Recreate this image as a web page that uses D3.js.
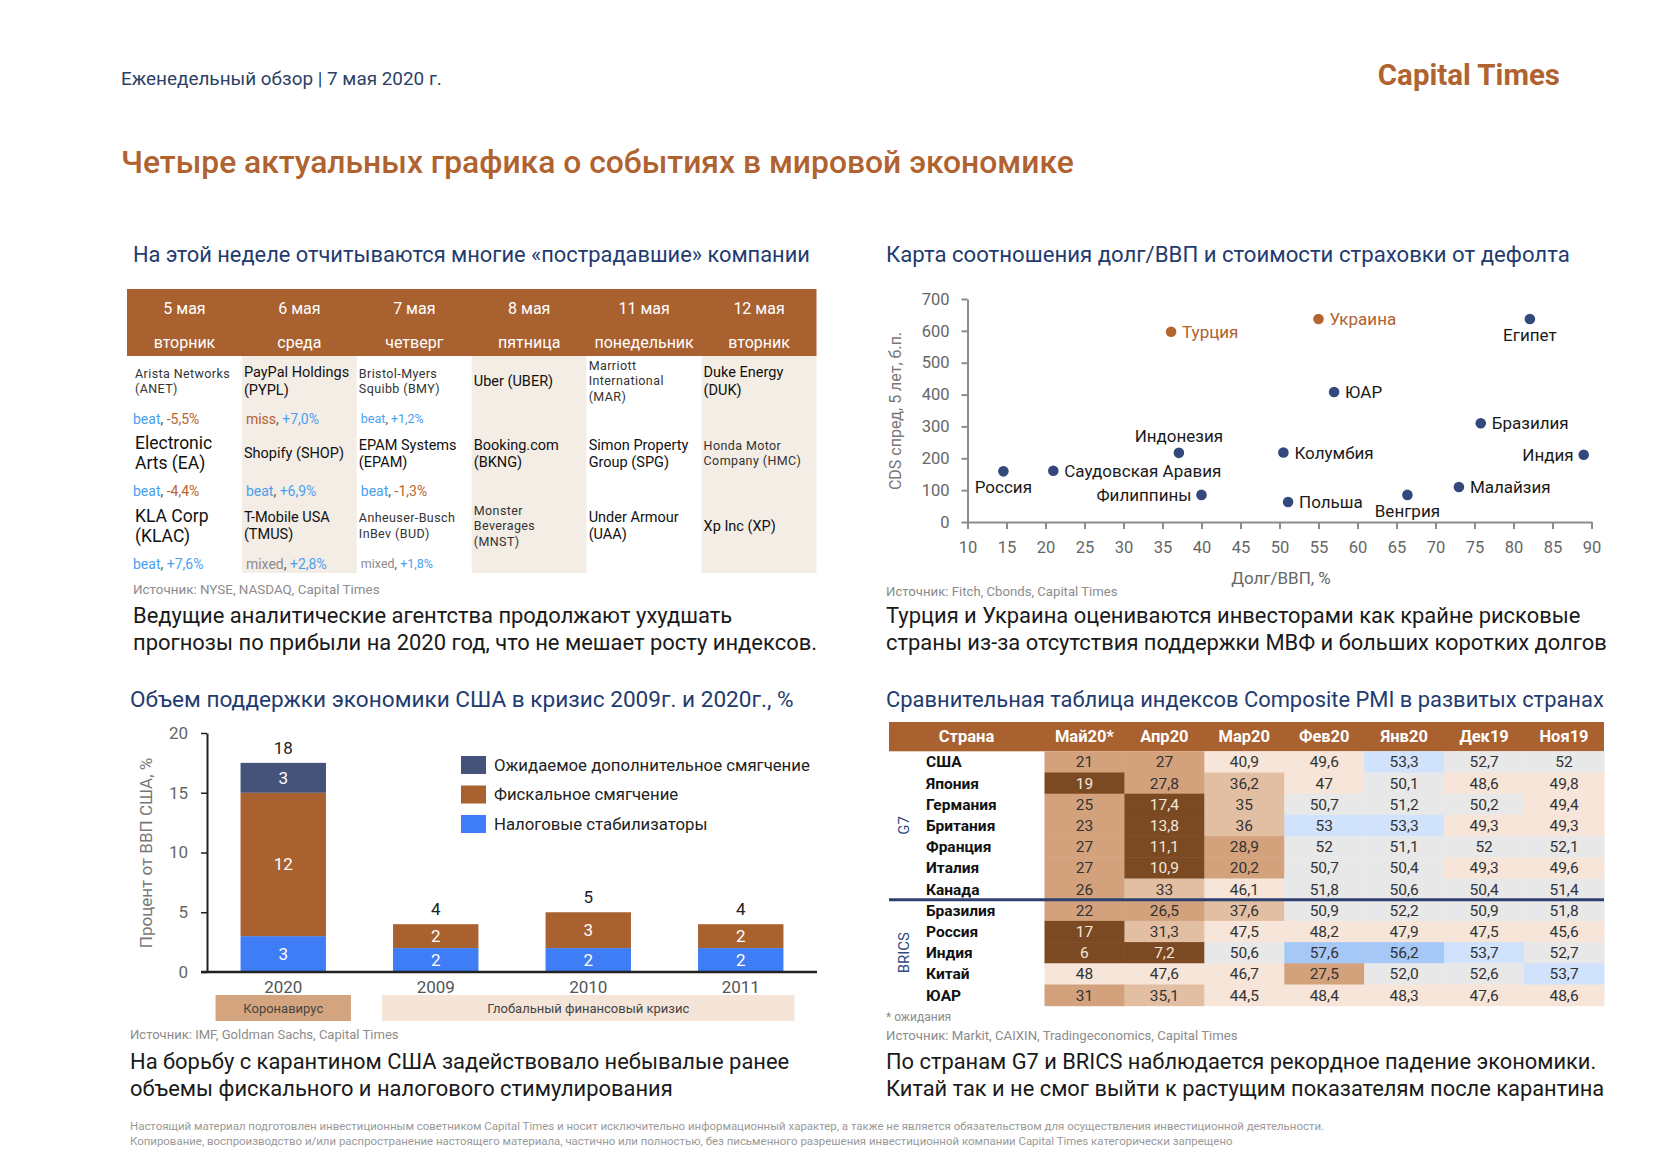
<!DOCTYPE html>
<html>
<head>
<meta charset="utf-8">
<script src="https://cdn.jsdelivr.net/npm/d3@7"></script>
<style>
  body { margin: 0; background: #fff; }
  svg { display: block; }
</style>
</head>
<body>
<script>
// ---- data: events table ----
var eventDays = ["5 мая", "6 мая", "7 мая", "8 мая", "11 мая", "12 мая"];
var eventWeekdays = ["вторник", "среда", "четверг", "пятница", "понедельник", "вторник"];
var eventCompanies = [
    ["Arista Networks\n(ANET)", "Electronic\nArts (EA)", "KLA Corp\n(KLAC)"],
    ["PayPal Holdings\n(PYPL)", "Shopify (SHOP)", "T-Mobile USA\n(TMUS)"],
    ["Bristol-Myers\nSquibb (BMY)", "EPAM Systems\n(EPAM)", "Anheuser-Busch\nInBev (BUD)"],
    ["Uber (UBER)", "Booking.com\n(BKNG)", "Monster\nBeverages\n(MNST)"],
    ["Marriott\nInternational\n(MAR)", "Simon Property\nGroup (SPG)", "Under Armour\n(UAA)"],
    ["Duke Energy\n(DUK)", "Honda Motor\nCompany (HMC)", "Xp Inc (XP)"]
];
var eventResults = [
    [["beat", "-5,5%"], ["beat", "-4,4%"], ["beat", "+7,6%"]],
    [["miss", "+7,0%"], ["beat", "+6,9%"], ["mixed", "+2,8%"]],
    [["beat", "+1,2%"], ["beat", "-1,3%"], ["mixed", "+1,8%"]],
    [null, null, null],
    [null, null, null],
    [null, null, null]
];
// text size class of each company cell (style, kept apart from the data)
var companySize = [["s","l","l"], ["m","m","m"], ["s","m","s"], ["m","m","s"], ["s","m","m"], ["m","s","m"]];

// ---- data: scatter ----
var scCountries = ["Россия", "Саудовская Аравия", "Индонезия", "Филиппины", "Турция", "Украина", "ЮАР",
                   "Колумбия", "Польша", "Венгрия", "Малайзия", "Бразилия", "Индия", "Египет"];
var scDebtGdp = [14.6, 21.0, 37.1, 40.0, 36.1, 55.0, 57.0, 50.5, 51.1, 66.4, 73.0, 75.8, 89.0, 82.1];
var scCds = [159, 161, 217, 85, 597, 637, 408, 218, 63, 85, 110, 310, 211, 637];
var scHighlight = ["Турция", "Украина"];
var scLabelSide = ["below", "right", "above", "left", "right", "right", "right",
                   "right", "right", "below", "right", "right", "left", "below"];

// ---- data: stacked bars ----
var barYears = ["2020", "2009", "2010", "2011"];
var taxStabilizers = [3, 2, 2, 2];
var fiscalEasing = [12, 2, 3, 2];
var extraEasing = [2.5, 0, 0, 0];
var barSeries = ["Налоговые стабилизаторы", "Фискальное смягчение", "Ожидаемое дополнительное смягчение"];
var crisisNames = ["Коронавирус", "Глобальный финансовый кризис"];
var crisisYears = [["2020"], ["2009", "2010", "2011"]];

// ---- data: PMI table ----
var pmiMonths = ["Май20*", "Апр20", "Мар20", "Фев20", "Янв20", "Дек19", "Ноя19"];
var pmiCountries = ["США", "Япония", "Германия", "Британия", "Франция", "Италия", "Канада",
                    "Бразилия", "Россия", "Индия", "Китай", "ЮАР"];
var pmiGroups = ["G7", "BRICS"];
var pmiGroupCountries = [["США", "Канада"], ["Бразилия", "ЮАР"]];
var pmiValues = [
    ["21", "27", "40,9", "49,6", "53,3", "52,7", "52"],
    ["19", "27,8", "36,2", "47", "50,1", "48,6", "49,8"],
    ["25", "17,4", "35", "50,7", "51,2", "50,2", "49,4"],
    ["23", "13,8", "36", "53", "53,3", "49,3", "49,3"],
    ["27", "11,1", "28,9", "52", "51,1", "52", "52,1"],
    ["27", "10,9", "20,2", "50,7", "50,4", "49,3", "49,6"],
    ["26", "33", "46,1", "51,8", "50,6", "50,4", "51,4"],
    ["22", "26,5", "37,6", "50,9", "52,2", "50,9", "51,8"],
    ["17", "31,3", "47,5", "48,2", "47,9", "47,5", "45,6"],
    ["6", "7,2", "50,6", "57,6", "56,2", "53,7", "52,7"],
    ["48", "47,6", "46,7", "27,5", "52,0", "52,6", "53,7"],
    ["31", "35,1", "44,5", "48,4", "48,3", "47,6", "48,6"]
];

var FONT = "Roboto, 'Open Sans', sans-serif";
var BROWN = "#aa6130", ORANGE = "#b0622f", NAVY = "#1f3b6f", DOT = "#34497b";

var svg = d3.select("body").append("svg")
    .attr("width", 1680).attr("height", 1162)
    .style("font-family", FONT);

// scale font size of a group of texts so their widths match targets
function fitGroup(sel, widths) {
    var r = [];
    sel.each(function(d, i) { r.push(widths[i] / this.getComputedTextLength()); });
    var k = d3.mean(r);
    sel.each(function() {
        var t = d3.select(this);
        t.attr("font-size", parseFloat(t.attr("font-size")) * k);
    });
}

function textLines(lines, x, ys, size, fill, widths, anchor) {
    var sel = svg.append("g").selectAll("text").data(lines).enter().append("text")
        .attr("x", x).attr("y", function(d, i) { return ys[i]; })
        .attr("dy", "0.35em")
        .attr("font-size", size)
        .attr("fill", fill)
        .attr("text-anchor", anchor || "start")
        .text(function(d) { return d; });
    if (widths) fitGroup(sel, widths);
    return sel;
}

// ---- page header ----
textLines(["Еженедельный обзор | 7 мая 2020 г."], 121, [78], 17, "#2d3f66", [321]);
textLines(["Capital Times"], 1560, [75], 23, ORANGE, [180], "end").attr("font-weight", "bold");
textLines(["Четыре актуальных графика о событиях в мировой экономике"], 121, [162], 31, ORANGE, [948])
    .attr("font-weight", 500);

// section titles
textLines(["На этой неделе отчитываются многие «пострадавшие» компании"], 133, [254], 20, NAVY, [677]);
textLines(["Карта соотношения долг/ВВП и стоимости страховки от дефолта"], 886, [254], 20, NAVY, [684]);
textLines(["Объем поддержки экономики США в кризис 2009г. и 2020г., %"], 130, [699], 20, NAVY, [664]);
textLines(["Сравнительная таблица индексов Composite PMI в развитых странах"], 886, [699], 20, NAVY, [718]);

// captions
textLines(["Ведущие аналитические агентства продолжают ухудшать",
           "прогнозы по прибыли на 2020 год, что не мешает росту индексов."], 133, [615, 642], 20, "#1a1a1a", [596, 689]);
textLines(["Турция и Украина оцениваются инвесторами как крайне рисковые",
           "страны из-за отсутствия поддержки МВФ и больших коротких долгов"], 886, [615, 642], 20, "#1a1a1a", [695, 721]);
textLines(["На борьбу с карантином США задействовало небывалые ранее",
           "объемы фискального и налогового стимулирования"], 130, [1061, 1088], 20, "#1a1a1a", [660, 543]);
textLines(["По странам G7 и BRICS наблюдается рекордное падение экономики.",
           "Китай так и не смог выйти к растущим показателям после карантина"], 886, [1061, 1088], 20, "#1a1a1a", [720, 709]);

// sources
textLines(["Источник: NYSE, NASDAQ, Capital Times"], 133, [589], 12, "#8c8c8c", [247]);
textLines(["Источник: Fitch, Cbonds, Capital Times"], 886, [591], 12, "#8c8c8c", [232]);
textLines(["Источник: IMF, Goldman Sachs, Capital Times"], 130, [1034], 12, "#8c8c8c", [269]);
textLines(["* ожидания"], 886, [1017], 12, "#8c8c8c");
textLines(["Источник: Markit, CAIXIN, Tradingeconomics, Capital Times"], 886, [1035], 12, "#8c8c8c", [352]);

// footer
textLines(["Настоящий материал подготовлен инвестиционным советником Capital Times и носит исключительно информационный характер, а также не является обязательством для осуществления инвестиционной деятельности.",
           "Копирование, воспроизводство и/или распространение настоящего материала, частично или полностью, без письменного разрешения инвестиционной компании Capital Times категорически запрещено"],
          130, [1126, 1141], 11, "#9a9a9a", [1190, 1108]);

// ================= events table =================
var ex = d3.scaleBand().domain(d3.range(eventDays.length)).range([127, 816.5]);
var er = d3.scaleBand().domain(d3.range(3)).range([356, 573]);
var sizePx = {s: 12.5, m: 14.5, l: 17.5};
var lineH = {s: 15.5, m: 17.5, l: 20};

var evt = svg.append("g");
evt.selectAll(".colbg").data(eventDays).enter().append("rect")
    .attr("x", function(d, i) { return ex(i); }).attr("y", er.range()[0])
    .attr("width", ex.bandwidth()).attr("height", er.range()[1] - er.range()[0])
    .attr("fill", function(d, i) { return i % 2 ? "#f3ede5" : "#fff"; });
evt.append("rect").attr("x", ex.range()[0]).attr("y", 289)
    .attr("width", ex.range()[1] - ex.range()[0]).attr("height", 67).attr("fill", BROWN);
evt.selectAll(".day").data(eventDays).enter().append("text")
    .attr("x", function(d, i) { return ex(i) + ex.bandwidth() / 2; }).attr("y", 308)
    .attr("dy", "0.35em").attr("text-anchor", "middle").attr("fill", "#fff").attr("font-size", 16)
    .text(function(d) { return d; });
evt.selectAll(".wd").data(eventWeekdays).enter().append("text")
    .attr("x", function(d, i) { return ex(i) + ex.bandwidth() / 2; }).attr("y", 342)
    .attr("dy", "0.35em").attr("text-anchor", "middle").attr("fill", "#fff").attr("font-size", 16)
    .text(function(d) { return d; });

eventCompanies.forEach(function(col, i) {
    col.forEach(function(name, j) {
        var lines = name.split("\n");
        var sz = companySize[i][j];
        var c = er(j) + 25;
        lines.forEach(function(line, k) {
            evt.append("text")
                .attr("x", ex(i) + (i === 0 ? 8 : 2))
                .attr("y", c + (k - (lines.length - 1) / 2) * lineH[sz])
                .attr("dy", "0.35em")
                .attr("font-size", sizePx[sz])
                .attr("letter-spacing", sz === "s" ? 0.4 : 0)
                .attr("fill", sz === "s" ? "#333" : "#111")
                .text(line);
        });
        var res = eventResults[i][j];
        if (res) {
            var t = evt.append("text")
                .attr("x", ex(i) + (i === 0 ? 6 : 4))
                .attr("y", er(j) + 63)
                .attr("dy", "0.35em")
                .attr("font-size", sz === "s" && i === 2 ? 12.5 : 14);
            var wordColor = res[0] === "beat" ? "#4aa0f0" : (res[0] === "miss" ? ORANGE : "#8c8c8c");
            t.append("tspan").attr("fill", wordColor).text(res[0]);
            t.append("tspan").attr("fill", "#555").text(", ");
            t.append("tspan").attr("fill", res[1][0] === "-" ? "#b8662f" : "#4aa0f0").text(res[1]);
        }
    });
});

// ================= scatter =================
var sx = d3.scaleLinear().domain([10, 90]).range([967.5, 1591.5]);
var sy = d3.scaleLinear().domain([0, 700]).range([522, 299]);

var sc = svg.append("g");
var gx = sc.append("g").attr("transform", "translate(0,522)")
    .call(d3.axisBottom(sx).tickValues(d3.range(10, 91, 5)).tickSize(7).tickSizeOuter(0).tickPadding(12));
var gy = sc.append("g").attr("transform", "translate(967.5,0)")
    .call(d3.axisLeft(sy).tickValues(d3.range(0, 701, 100)).tickSize(6).tickSizeOuter(0).tickPadding(12));
[gx, gy].forEach(function(g) {
    g.select(".domain").attr("stroke", "#8c8c8c").attr("stroke-width", 2);
    g.selectAll(".tick line").attr("stroke", "#8c8c8c").attr("stroke-width", 2);
    g.selectAll(".tick text").attr("fill", "#666").attr("font-size", 16.5).attr("font-family", FONT);
});
sc.append("text").attr("transform", "translate(895,411) rotate(-90)")
    .attr("dy", "0.35em").attr("text-anchor", "middle").attr("font-size", 16).attr("fill", "#777")
    .text("CDS спред, 5 лет, б.п.");
sc.append("text").attr("x", 1281).attr("y", 578).attr("dy", "0.35em").attr("text-anchor", "middle")
    .attr("font-size", 17).attr("fill", "#666").text("Долг/ВВП, %");

var pts = scCountries.map(function(c, i) {
    return {name: c, x: scDebtGdp[i], y: scCds[i], side: scLabelSide[i], hot: scHighlight.indexOf(c) >= 0};
});
sc.selectAll("circle").data(pts).enter().append("circle")
    .attr("cx", function(d) { return sx(d.x); }).attr("cy", function(d) { return sy(d.y); })
    .attr("r", 5.3).attr("fill", function(d) { return d.hot ? "#b5652e" : DOT; });
var offs = {right: [11, 0, "start"], left: [-10, 0, "end"], below: [0, 16, "middle"], above: [0, -17, "middle"]};
sc.selectAll(".lbl").data(pts).enter().append("text")
    .attr("x", function(d) { return sx(d.x) + offs[d.side][0]; })
    .attr("y", function(d) { return sy(d.y) + offs[d.side][1]; })
    .attr("dy", "0.35em").attr("text-anchor", function(d) { return offs[d.side][2]; })
    .attr("font-size", 17).attr("fill", function(d) { return d.hot ? ORANGE : "#1a1a1a"; })
    .text(function(d) { return d.name; });

// ================= stacked bars =================
var bx = d3.scaleBand().domain(barYears).range([207, 817]).paddingInner(0.44).paddingOuter(0.22);
var by = d3.scaleLinear().domain([0, 20]).range([972, 733]);
var barColors = ["#3f7df6", "#aa6130", "#45537a"];
var barRows = barYears.map(function(y, i) {
    return {year: y, tax: taxStabilizers[i], fiscal: fiscalEasing[i], extra: extraEasing[i]};
});
var keys = ["tax", "fiscal", "extra"];
var stacked = d3.stack().keys(keys)(barRows);

var bc = svg.append("g");
var layers = bc.selectAll(".layer").data(stacked).enter().append("g")
    .attr("fill", function(d, i) { return barColors[i]; });
layers.selectAll("rect").data(function(d) { return d; }).enter().append("rect")
    .attr("x", function(d) { return bx(d.data.year); })
    .attr("y", function(d) { return by(d[1]); })
    .attr("width", bx.bandwidth())
    .attr("height", function(d) { return by(d[0]) - by(d[1]); });
layers.selectAll("text").data(function(d) { return d; }).enter()
    .filter(function(d) { return d[1] - d[0] > 0; })
    .append("text")
    .attr("x", function(d) { return bx(d.data.year) + bx.bandwidth() / 2; })
    .attr("y", function(d) { return (by(d[0]) + by(d[1])) / 2; })
    .attr("dy", "0.35em").attr("text-anchor", "middle").attr("fill", "#fff").attr("font-size", 17)
    .text(function(d) { return Math.round(d[1] - d[0]); });
bc.selectAll(".total").data(barRows).enter().append("text")
    .attr("x", function(d) { return bx(d.year) + bx.bandwidth() / 2; })
    .attr("y", function(d) { return by(d.tax + d.fiscal + d.extra) - 15; })
    .attr("dy", "0.35em").attr("text-anchor", "middle").attr("fill", "#222").attr("font-size", 17)
    .text(function(d) { return Math.round(d.tax + d.fiscal + d.extra); });

var bgy = bc.append("g").attr("transform", "translate(207,0)")
    .call(d3.axisLeft(by).tickValues([0, 5, 10, 15, 20]).tickSize(6).tickSizeOuter(0).tickPadding(13));
bgy.select(".domain").attr("stroke", "#222").attr("stroke-width", 2);
bgy.selectAll(".tick line").attr("stroke", "#222").attr("stroke-width", 1.5);
bgy.selectAll(".tick text").attr("fill", "#666").attr("font-size", 17).attr("font-family", FONT);
bc.append("line").attr("x1", 201).attr("x2", 817).attr("y1", by(0)).attr("y2", by(0))
    .attr("stroke", "#222").attr("stroke-width", 2.5);
bc.selectAll(".yr").data(barYears).enter().append("text")
    .attr("x", function(d) { return bx(d) + bx.bandwidth() / 2; }).attr("y", 987)
    .attr("dy", "0.35em").attr("text-anchor", "middle").attr("fill", "#555").attr("font-size", 17)
    .text(function(d) { return d; });
bc.append("text").attr("transform", "translate(146,853) rotate(-90)")
    .attr("dy", "0.35em").attr("text-anchor", "middle").attr("font-size", 17).attr("fill", "#777")
    .text("Процент от ВВП США, %");

// crisis bands under the axis
var crisisFill = ["#d4a47e", "#f4e5d8"];
var crisisInset = [25, 11];
crisisNames.forEach(function(name, i) {
    var ys = crisisYears[i];
    var x0 = bx(ys[0]) - crisisInset[i], x1 = bx(ys[ys.length - 1]) + bx.bandwidth() + crisisInset[i];
    bc.append("rect").attr("x", x0).attr("y", 995).attr("width", x1 - x0).attr("height", 26)
        .attr("fill", crisisFill[i]);
    bc.append("text").attr("x", (x0 + x1) / 2).attr("y", 1008).attr("dy", "0.35em")
        .attr("text-anchor", "middle").attr("font-size", 13).attr("fill", "#444").text(name);
});

// legend
var legOrder = [2, 1, 0];
var leg = bc.selectAll(".leg").data(legOrder).enter().append("g")
    .attr("transform", function(d, i) { return "translate(461," + (756 + i * 29.5) + ")"; });
leg.append("rect").attr("width", 25).attr("height", 18).attr("fill", function(d) { return barColors[d]; });
var legText = leg.append("text").attr("x", 33).attr("y", 9).attr("dy", "0.35em")
    .attr("font-size", 16.5).attr("fill", "#222").text(function(d) { return barSeries[d]; });
fitGroup(legText.filter(function(d, i) { return i === 0; }), [316]);
legText.attr("font-size", legText.filter(function(d, i) { return i === 0; }).attr("font-size"));

// ================= PMI table =================
var px = d3.scaleBand().domain(pmiMonths).range([1044.5, 1604]);
var py = d3.scaleBand().domain(pmiCountries).range([751.3, 1005.7]);
function num(s) { return parseFloat(s.replace(",", ".")); }
var pmiColor = d3.scaleThreshold().domain([20, 31.2, 40, 50, 52.9, 55])
    .range(["#7b4a22", "#d3a27c", "#e2bfa3", "#f6e5d8", "#e8e8e8", "#d0e2fc", "#a6c8f7"]);

var pt = svg.append("g");
pt.append("rect").attr("x", 889).attr("y", 722).attr("width", 715).attr("height", 29.3).attr("fill", BROWN);
pt.append("text").attr("x", 966.5).attr("y", 736.5).attr("dy", "0.35em").attr("text-anchor", "middle")
    .attr("fill", "#fff").attr("font-weight", "bold").attr("font-size", 16.5).text("Страна");
pt.selectAll(".mh").data(pmiMonths).enter().append("text")
    .attr("x", function(d) { return px(d) + px.bandwidth() / 2; }).attr("y", 736.5)
    .attr("dy", "0.35em").attr("text-anchor", "middle").attr("fill", "#fff")
    .attr("font-weight", "bold").attr("font-size", 16.5).text(function(d) { return d; });

var cells = [];
pmiValues.forEach(function(row, i) {
    row.forEach(function(v, j) { cells.push({c: pmiCountries[i], m: pmiMonths[j], s: v, v: num(v)}); });
});
pt.selectAll(".cell").data(cells).enter().append("rect")
    .attr("x", function(d) { return px(d.m); }).attr("y", function(d) { return py(d.c); })
    .attr("width", px.bandwidth() + 0.5).attr("height", py.bandwidth() + 0.5)
    .attr("fill", function(d) { return pmiColor(d.v); });
pt.selectAll(".val").data(cells).enter().append("text")
    .attr("x", function(d) { return px(d.m) + px.bandwidth() / 2; })
    .attr("y", function(d) { return py(d.c) + py.bandwidth() / 2; })
    .attr("dy", "0.35em").attr("text-anchor", "middle").attr("font-size", 15.5)
    .attr("fill", function(d) { return d.v < 20 ? "#f3e7dc" : "#333"; })
    .text(function(d) { return d.s; });
pt.selectAll(".cn").data(pmiCountries).enter().append("text")
    .attr("x", 926).attr("y", function(d) { return py(d) + py.bandwidth() / 2; })
    .attr("dy", "0.35em").attr("font-size", 15.5).attr("font-weight", "bold").attr("fill", "#111")
    .text(function(d) { return d; });
pt.append("line").attr("x1", 889).attr("x2", 1604)
    .attr("y1", py(pmiGroupCountries[1][0])).attr("y2", py(pmiGroupCountries[1][0]))
    .attr("stroke", "#2e4070").attr("stroke-width", 3);
pmiGroups.forEach(function(g, i) {
    var a = py(pmiGroupCountries[i][0]), b = py(pmiGroupCountries[i][1]) + py.bandwidth();
    pt.append("text").attr("transform", "translate(903.5," + (a + b) / 2 + ") rotate(-90)")
        .attr("dy", "0.35em").attr("text-anchor", "middle").attr("font-size", 15)
        .attr("fill", "#2e4a80").text(g);
});
</script>
</body>
</html>
